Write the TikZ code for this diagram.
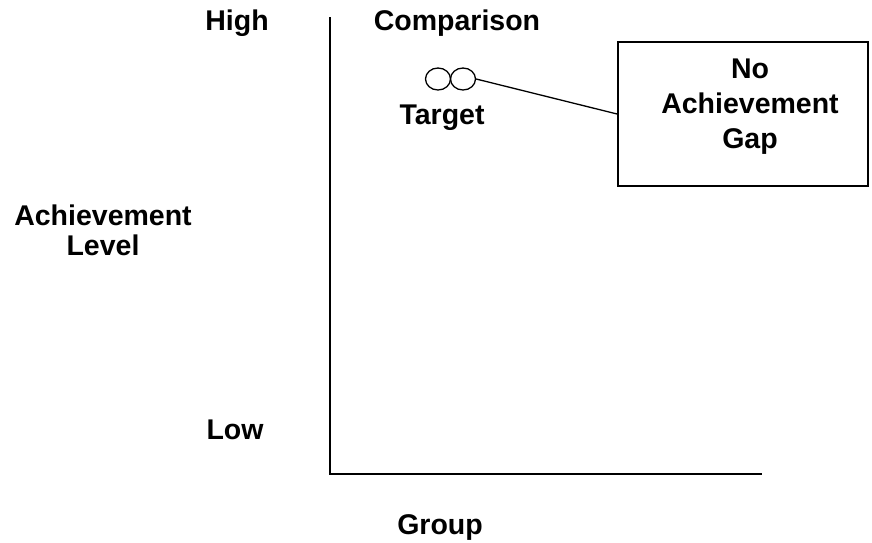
\documentclass[tikz,border=0pt]{standalone}
\usepackage{fontspec}
\setmainfont{Liberation Sans}
\usepackage{tikz}
\usetikzlibrary{positioning, shapes.geometric}

\begin{document}
\begin{tikzpicture}[
  x=1pt, y=-1pt,
  lbl/.style={inner sep=0pt, font=\fontsize{28.5}{30}\selectfont\bfseries, align=center},
  ring/.style={draw, line width=1.3pt, ellipse, inner sep=0pt, minimum width=25pt, minimum height=22pt},
  gapbox/.style={draw, line width=1.8pt, minimum width=250pt, minimum height=144pt},
]
  \useasboundingbox (0,0) rectangle (872,542);

  % Axes
  \coordinate (yTop) at (330,17);
  \coordinate (org) at (330,474);
  \coordinate (xEnd) at (762,474);
  \draw[line width=1.8pt] (yTop) -- (org) -- (xEnd);

  % Axis labels
  \node[lbl] (hi) at (237,23) {High};
  \node[lbl] (lo) at (235,430) {Low};
  \node[lbl, font=\fontsize{28.5}{30}\selectfont\bfseries] (ylab) at (103,230) {Achievement\\Level};
  \node[lbl] (xlab) at (440,527) {Group};

  % Groups
  \node[lbl] (cmp) at (457,23) {Comparison};
  \node[ring] (cA) at (438,79) {};
  \node[ring] (cB) at (463,79) {};
  \node[lbl] (tgt) at (442,118) {Target};

  % Callout
  \node[gapbox] (gap) at (743,114) {};
  \node[lbl, font=\fontsize{28.5}{35}\selectfont\bfseries] (gapTxt) at (750,107) {No\\Achievement\\Gap};
  \draw[line width=1.3pt] (cB.east) -- (gap.west);
\end{tikzpicture}
\end{document}
